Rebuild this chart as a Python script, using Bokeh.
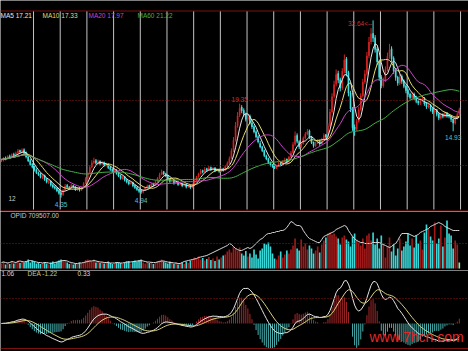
import numpy as np
import pandas as pd
from bokeh.plotting import figure
from bokeh.layouts import column
from bokeh.models import Range1d, Label, Span
from bokeh.embed import file_html
from bokeh.resources import INLINE

# ---------------- data ----------------
open_ = [10.2, 10.3, 10.7, 10.5, 11.0, 10.8, 11.3, 11.0, 11.4, 11.9,
         11.6, 12.0, 11.5, 10.9, 10.3, 9.7, 9.3, 8.8, 8.3, 8.1,
         7.5, 7.9, 7.3, 6.7, 7.0, 6.4, 6.1, 5.9, 5.5, 5.1,
         4.8, 5.5, 6.3, 6.0, 5.8, 6.3, 6.0, 5.6, 5.9, 5.5,
         5.9, 6.6, 7.4, 8.3, 9.2, 9.9, 10.3, 9.8, 10.2, 9.7,
         10.0, 9.4, 9.7, 9.2, 8.9, 8.5, 8.8, 8.3, 7.9, 7.3,
         7.7, 7.2, 6.9, 6.5, 6.8, 6.3, 6.0, 5.7, 5.5, 5.2,
         5.5, 5.9, 6.3, 6.0, 6.6, 6.3, 6.9, 7.4, 8.0, 8.5,
         8.2, 7.9, 7.4, 6.9, 7.2, 6.6, 6.9, 6.4, 6.6, 6.2,
         6.5, 6.0, 6.3, 5.9, 6.4, 7.0, 7.6, 8.1, 8.7, 8.4,
         9.0, 8.7, 9.2, 8.8, 9.1, 8.6, 8.9, 8.5, 9.0, 8.7,
         9.3, 9.8, 10.6, 11.8, 13.5, 15.8, 17.5, 18.8, 18.3, 17.7,
         16.8, 17.4, 16.3, 15.7, 14.9, 14.1, 13.0, 12.5, 11.9, 11.0,
         10.6, 10.0, 9.6, 9.4, 9.0, 9.4, 9.9, 9.6, 10.1, 10.5,
         10.0, 10.8, 11.5, 12.8, 14.3, 13.3, 12.4, 12.9, 13.8, 14.5,
         15.0, 14.1, 13.2, 12.6, 13.0, 13.5, 12.9, 13.6, 14.4, 14.0,
         15.8, 18.0, 20.5, 22.4, 24.2, 23.2, 21.8, 24.5, 26.5, 24.3,
         21.1, 18.6, 15.6, 15.2, 16.5, 18.4, 20.6, 22.8, 24.1, 27.0,
         29.2, 30.6, 29.9, 28.1, 26.1, 23.6, 22.2, 23.0, 24.8, 26.9,
         28.1, 26.6, 24.7, 23.6, 22.6, 23.7, 23.0, 22.2, 21.5, 20.9,
         20.3, 20.9, 20.4, 19.8, 19.4, 19.8, 20.2, 19.4, 18.8, 19.1,
         18.5, 18.0, 18.4, 17.7, 17.0, 17.6, 17.3, 17.9, 17.5, 17.4,
         16.9, 16.2, 17.0, 17.6]

high = [10.6, 10.8, 10.9, 11.1, 11.2, 11.4, 11.5, 11.7, 12.1, 12.0,
        12.2, 12.2, 11.7, 11.1, 10.5, 9.9, 9.5, 9.0, 8.5, 8.3,
        8.1, 8.0, 7.5, 7.2, 7.1, 6.6, 6.3, 6.0, 5.7, 5.3,
        5.7, 6.5, 6.5, 6.2, 6.5, 6.4, 6.2, 6.0, 6.0, 6.1,
        6.8, 7.6, 8.5, 9.5, 10.3, 10.7, 10.5, 10.4, 10.3, 10.2,
        10.1, 9.9, 9.8, 9.4, 9.0, 9.0, 8.9, 8.4, 8.0, 7.9,
        7.8, 7.3, 7.0, 6.9, 6.9, 6.4, 6.1, 5.8, 5.6, 5.7,
        6.0, 6.4, 6.4, 6.7, 6.7, 7.1, 7.6, 8.3, 8.8, 8.6,
        8.3, 8.0, 7.5, 7.3, 7.3, 7.0, 7.0, 6.7, 6.7, 6.6,
        6.6, 6.4, 6.4, 6.6, 7.2, 7.8, 8.3, 8.9, 8.8, 9.2,
        9.1, 9.4, 9.3, 9.2, 9.2, 9.0, 9.0, 9.1, 9.1, 9.5,
        10.1, 10.9, 12.2, 14.0, 16.4, 18.0, 19.35, 19.1, 18.6, 17.9,
        17.8, 17.6, 16.5, 15.9, 15.1, 14.3, 13.4, 12.6, 12.0, 11.2,
        10.7, 10.1, 9.7, 9.5, 9.6, 10.0, 10.0, 10.3, 10.7, 10.6,
        11.0, 11.8, 13.2, 14.9, 14.6, 13.5, 13.2, 14.1, 14.8, 15.3,
        15.2, 14.2, 13.3, 13.3, 13.7, 13.6, 13.9, 14.6, 14.5, 16.2,
        18.5, 21.0, 23.0, 24.8, 24.6, 23.5, 25.0, 27.2, 26.8, 24.6,
        21.4, 18.8, 16.0, 16.9, 18.8, 21.0, 23.3, 24.7, 27.6, 30.0,
        31.4, 32.64, 30.3, 28.4, 26.4, 23.9, 23.5, 25.3, 27.5, 28.9,
        28.5, 26.9, 25.0, 23.8, 24.2, 24.0, 23.2, 22.4, 21.7, 21.1,
        21.2, 21.1, 20.6, 20.0, 20.2, 20.6, 20.4, 19.6, 19.4, 19.3,
        18.7, 18.6, 18.5, 17.9, 17.8, 17.8, 18.1, 18.0, 17.7, 17.5,
        17.0, 17.3, 17.9, 18.7]

low = [10.0, 10.1, 10.3, 10.4, 10.6, 10.7, 10.8, 10.9, 11.3, 11.4,
       11.5, 11.2, 10.6, 10.0, 9.4, 9.0, 8.5, 8.1, 7.8, 7.4,
       7.3, 7.0, 6.6, 6.5, 6.1, 5.8, 5.6, 5.2, 4.8, 4.35,
       4.6, 5.4, 5.8, 5.6, 5.7, 5.8, 5.4, 5.4, 5.3, 5.4,
       5.8, 6.5, 7.3, 8.1, 9.0, 9.7, 9.6, 9.6, 9.5, 9.5,
       9.3, 9.3, 8.9, 8.6, 8.3, 8.4, 8.0, 7.6, 7.2, 7.2,
       6.9, 6.6, 6.3, 6.4, 6.0, 5.7, 5.4, 5.1, 4.94, 5.0,
       5.4, 5.8, 5.8, 5.9, 6.1, 6.2, 6.8, 7.3, 7.9, 7.9,
       7.6, 7.1, 6.7, 6.8, 6.4, 6.5, 6.2, 6.3, 6.0, 6.1,
       5.8, 5.9, 5.7, 5.8, 6.3, 6.9, 7.5, 8.0, 8.2, 8.3,
       8.5, 8.6, 8.6, 8.7, 8.4, 8.5, 8.3, 8.4, 8.5, 8.6,
       9.2, 9.7, 10.5, 11.6, 13.3, 15.5, 17.2, 17.8, 17.3, 16.5,
       16.6, 16.0, 15.3, 14.6, 13.8, 13.0, 12.2, 11.6, 10.8, 10.3,
       9.7, 9.3, 9.1, 8.9, 8.9, 9.3, 9.4, 9.5, 10.0, 9.8,
       9.9, 10.7, 11.4, 12.6, 13.0, 12.1, 12.2, 12.8, 13.6, 14.3,
       13.7, 12.9, 12.3, 12.4, 12.9, 12.6, 12.8, 13.5, 13.7, 13.9,
       15.6, 17.8, 20.2, 22.1, 22.6, 21.3, 21.5, 24.2, 23.7, 20.5,
       18.0, 15.0, 14.2, 15.0, 16.3, 18.2, 20.3, 22.5, 23.8, 26.6,
       28.8, 29.2, 27.5, 25.5, 23.0, 21.8, 21.9, 22.8, 24.5, 26.5,
       26.0, 24.1, 23.0, 22.2, 22.3, 22.5, 21.8, 21.0, 20.4, 20.0,
       20.0, 19.9, 19.4, 19.1, 19.1, 19.6, 19.0, 18.5, 18.6, 18.1,
       17.7, 17.8, 17.3, 16.7, 16.8, 17.0, 17.1, 17.1, 17.0, 16.4,
       14.93, 16.0, 16.8, 17.4]

close = [10.4, 10.6, 10.5, 10.9, 10.8, 11.2, 11.0, 11.5, 11.8, 11.6,
         11.9, 11.4, 10.8, 10.2, 9.6, 9.2, 8.7, 8.3, 8.0, 7.6,
         7.8, 7.2, 6.8, 6.9, 6.3, 6.0, 5.8, 5.4, 5.0, 4.8,
         5.5, 6.2, 6.0, 5.8, 6.3, 6.0, 5.6, 5.8, 5.5, 5.9,
         6.6, 7.4, 8.3, 9.2, 9.9, 10.2, 9.8, 10.1, 9.7, 9.9,
         9.5, 9.6, 9.1, 8.8, 8.5, 8.7, 8.2, 7.8, 7.4, 7.6,
         7.1, 6.8, 6.5, 6.7, 6.2, 5.9, 5.6, 5.3, 5.2, 5.5,
         5.9, 6.2, 6.0, 6.5, 6.3, 6.9, 7.4, 8.0, 8.4, 8.1,
         7.8, 7.3, 6.9, 7.1, 6.6, 6.8, 6.4, 6.5, 6.2, 6.4,
         6.0, 6.2, 5.9, 6.4, 7.0, 7.6, 8.1, 8.6, 8.4, 8.9,
         8.7, 9.1, 8.8, 9.0, 8.6, 8.8, 8.5, 8.9, 8.7, 9.3,
         9.8, 10.6, 11.8, 13.5, 15.8, 17.4, 18.6, 18.2, 17.6, 16.8,
         17.3, 16.2, 15.6, 14.8, 14.0, 13.2, 12.4, 11.8, 11.0, 10.5,
         9.9, 9.5, 9.3, 9.0, 9.4, 9.8, 9.6, 10.1, 10.4, 10.0,
         10.8, 11.5, 12.8, 14.2, 13.3, 12.4, 12.9, 13.8, 14.5, 14.9,
         14.0, 13.1, 12.6, 13.0, 13.4, 12.9, 13.6, 14.3, 14.0, 15.8,
         18.0, 20.5, 22.4, 24.0, 23.1, 21.8, 24.5, 26.3, 24.2, 21.0,
         18.5, 15.5, 15.2, 16.5, 18.4, 20.6, 22.8, 24.1, 27.0, 29.2,
         30.5, 29.8, 28.0, 26.0, 23.5, 22.2, 23.0, 24.8, 26.9, 27.9,
         26.5, 24.6, 23.5, 22.6, 23.6, 22.9, 22.1, 21.4, 20.8, 20.3,
         20.8, 20.3, 19.7, 19.4, 19.8, 20.1, 19.3, 18.8, 19.0, 18.4,
         18.0, 18.3, 17.6, 17.0, 17.5, 17.3, 17.8, 17.4, 17.3, 16.8,
         16.2, 17.0, 17.6, 18.4]

volume = [10, 14, 8, 12, 9, 15, 10, 13, 16, 11,
          14, 12, 15, 18, 12, 16, 14, 10, 12, 9,
          11, 13, 10, 8, 12, 14, 10, 13, 16, 18,
          15, 16, 12, 9, 11, 8, 10, 9, 12, 10,
          13, 17, 18, 16, 14, 18, 12, 15, 11, 13,
          10, 12, 14, 11, 9, 10, 13, 12, 11, 9,
          12, 14, 15, 10, 13, 16, 14, 17, 18, 12,
          10, 13, 11, 14, 9, 12, 15, 16, 18, 14,
          12, 10, 14, 11, 9, 12, 8, 10, 12, 9,
          14, 11, 16, 18, 22, 20, 24, 18, 21, 16,
          19, 23, 17, 20, 15, 24, 18, 22, 26, 28,
          34, 38, 32, 44, 40, 36, 42, 30, 26, 35,
          24, 30, 22, 38, 28, 20, 36, 40, 50, 48,
          52, 44, 30, 20, 18, 26, 34, 22, 28, 36,
          30, 38, 46, 60, 40, 36, 58, 44, 50, 38,
          46, 40, 30, 36, 44, 32, 48, 56, 62, 70,
          72, 68, 70, 64, 60, 48, 62, 66, 58, 54,
          44, 64, 70, 58, 52, 46, 60, 40, 66, 70,
          56, 72, 48, 60, 40, 66, 50, 22, 44, 62,
          34, 48, 26, 40, 60, 36, 44, 54, 70, 46,
          60, 42, 66, 50, 56, 38, 72, 88, 80, 64,
          56, 92, 50, 60, 86, 44, 62, 96, 70, 66,
          40, 56, 48, 12]

opid = [12, 13, 12, 11, 12, 14, 13, 12, 14, 15,
        14, 13, 14, 15, 16, 15, 14, 13, 12, 12,
        11, 12, 12, 11, 10, 11, 12, 13, 14, 15,
        16, 16, 15, 13, 12, 11, 10, 10, 11, 11,
        12, 13, 14, 15, 15, 16, 15, 14, 13, 13,
        12, 12, 12, 11, 11, 11, 12, 12, 11, 11,
        12, 13, 13, 13, 14, 14, 15, 15, 16, 15,
        14, 13, 13, 12, 12, 12, 13, 14, 15, 15,
        14, 13, 12, 12, 11, 11, 10, 10, 12, 14,
        15, 16, 17, 18, 19, 20, 22, 23, 24, 25,
        26, 28, 30, 32, 34, 36, 38, 40, 42, 44,
        46, 50, 48, 44, 40, 38, 36, 36, 38, 40,
        42, 40, 42, 46, 50, 54, 58, 60, 64, 68,
        70, 70, 72, 72, 74, 74, 76, 76, 78, 82,
        88, 94, 92, 88, 86, 86, 84, 76, 70, 64,
        60, 58, 56, 54, 52, 52, 58, 64, 66, 68,
        70, 72, 74, 78, 80, 82, 84, 86, 84, 76,
        70, 64, 60, 56, 54, 52, 52, 50, 50, 50,
        50, 52, 52, 52, 52, 50, 48, 46, 44, 42,
        44, 48, 50, 56, 64, 70, 70, 70, 70, 68,
        66, 64, 66, 68, 72, 74, 76, 78, 80, 84,
        86, 88, 90, 92, 90, 88, 84, 82, 80, 78,
        76, 76, 76, 76]

ma_windows = [5, 10, 20, 60]
ma_labels = ["MA5 17.21", "MA10 17.33", "MA20 17.97", "MA60 21.22"]
marked_lows = [4.35, 4.94, 14.93]
marked_highs = [19.35, 32.64]
opid_label = "OPID 709507.00"
macd_labels = ["1.06", "DEA -1.22", "0.33"]
side_label = "12"
watermark = "www.7hcn.com"

# ---------------- styling / layout ----------------
W = 468
BAR_PX = 2.053
H1, H2, H3 = 211, 59, 81
RED_LINE = "#7a1010"
UP_C, DN_C = "#d42222", "#3ee0e0"
VUP_C, VDN_C = "#a01a1a", "#38d8d8"
MA_COLORS = ["#e6e6e6", "#e6dc6e", "#cc44cc", "#44b044"]
FONT = "Liberation Sans"

o = np.array(open_); h = np.array(high); l = np.array(low); c = np.array(close)
N = len(c)
x = np.arange(N)
up = c >= o

xr = Range1d(-1.0 / BAR_PX, (W - 1.0) / BAR_PX)

PY_REF, P_REF, PPU = 197.0, 4.35, 6.26


def py2p(py):
    return P_REF + (PY_REF - py) / PPU


def panel(hgt, y0, y1):
    f = figure(width=W, height=hgt, x_range=xr, y_range=Range1d(y0, y1),
               output_backend="svg", toolbar_location=None, min_border=0,
               x_axis_location=None, y_axis_location=None,
               background_fill_color="black", border_fill_color="black",
               outline_line_color=None)
    f.grid.visible = False
    return f


def slabel(fig, sx, sy, text, color, size="6.5px", font=FONT, baseline="middle"):
    fig.add_layout(Label(x=sx, y=sy, x_units="screen", y_units="screen", text=text,
                         text_color=color, text_font_size=size, text_font=font,
                         text_baseline=baseline))


# ---------------- price panel ----------------
p1 = panel(H1, py2p(H1), py2p(0))
grid_x = [15.6 + 13 * k for k in range(17)]
p1.segment(x0=grid_x, y0=[py2p(209)] * len(grid_x), x1=grid_x, y1=[py2p(10.5)] * len(grid_x),
           line_color="#c4c4c4", line_width=1)
for py in (100, 165):
    p1.add_layout(Span(location=py2p(py), dimension="width", line_color="#8a1818",
                       line_dash="1 2", line_width=1))
p1.add_layout(Span(location=py2p(10.5), dimension="width", line_color=RED_LINE, line_width=1))
p1.add_layout(Span(location=py2p(210.5), dimension="width", line_color=RED_LINE, line_width=1))

ccol = np.where(up, UP_C, DN_C).tolist()
p1.segment(x0=x, y0=l, x1=x, y1=h, line_color=ccol, line_width=1)
p1.vbar(x=x, bottom=np.minimum(o, c), top=np.maximum(o, c), width=0.8,
        fill_color=ccol, line_color=None)

cs = pd.Series(c)
for w, col in zip(ma_windows, MA_COLORS):
    p1.line(x, cs.rolling(w, min_periods=1).mean().values, line_color=col, line_width=1)

for txt, sx, col in zip(ma_labels, [0, 42, 88, 137], MA_COLORS):
    slabel(p1, sx, H1 - 15, txt, col)
slabel(p1, 8, H1 - 198, side_label, "#c8c8c8")

for v in marked_lows:
    i = low.index(v)
    p1.add_layout(Label(x=i, y=v - 4 / PPU, text=f"{v:.2f}", text_align="center",
                        text_baseline="top", text_color="#5cc0c8",
                        text_font_size="6.5px", text_font=FONT))
for v in marked_highs:
    i = high.index(v)
    if v == max(marked_highs):
        p1.add_layout(Label(x=i - 0.4, y=v - 3 / PPU, text=f"{v:.2f}<--", text_align="right",
                            text_baseline="middle", text_color="#c83434",
                            text_font_size="6.5px", text_font=FONT))
    else:
        p1.add_layout(Label(x=i, y=v + 2 / PPU, text=f"{v:.2f}", text_align="center",
                            text_baseline="bottom", text_color="#c83434",
                            text_font_size="6.5px", text_font=FONT))

# ---------------- volume panel ----------------
VB, VPU = 57.0, 0.5
p2 = panel(H2, -(H2 - VB) / VPU, VB / VPU)
p2.add_layout(Span(location=(VB - 32) / VPU, dimension="width", line_color="#8a1818",
                   line_dash="1 2", line_width=1))
vcol = np.where(up, VUP_C, VDN_C).tolist()
vcol[-1] = "#9ee69e"
p2.vbar(x=x, bottom=0, top=volume, width=0.8, fill_color=vcol, line_color=None)
p2.line(x, opid, line_color="#d6d6d6", line_width=1)
slabel(p2, 10, H2 - 4, opid_label, "#c8c8c8")

# ---------------- MACD panel ----------------
ema12 = cs.ewm(span=12, adjust=False).mean()
ema26 = cs.ewm(span=26, adjust=False).mean()
dif = ema12 - ema26
dea = dif.ewm(span=9, adjust=False).mean()
hist = 2 * (dif - dea)
ZB = 53.0
k = 43.0 / dif.max()
p3 = panel(H3, -(H3 - ZB) / k, ZB / k)
p3.add_layout(Span(location=25 / k, dimension="width", line_color="#8a1818",
                   line_dash="1 2", line_width=1))
p3.add_layout(Span(location=-25 / k, dimension="width", line_color=RED_LINE, line_width=1))
hcol = np.where(hist.values >= 0, "#a82828", "#4aaeae").tolist()
p3.segment(x0=x, y0=0, x1=x, y1=hist.values, line_color=hcol, line_width=1)
p3.line(x, dif.values, line_color="#e4e4e4", line_width=1)
p3.line(x, dea.values, line_color="#d8d07c", line_width=1)
for txt, sx, col in zip(macd_labels, [1, 27, 77], ["#d8d8d8", "#d0c878", "#d8d8d8"]):
    slabel(p3, sx, H3 - 3, txt, col)
slabel(p3, 369, 15, watermark, "#e02828", size="14px", font=FONT,
       baseline="alphabetic")

layout = column(p1, p2, p3, spacing=0)
open("out.html", "w").write(file_html(layout, INLINE))
